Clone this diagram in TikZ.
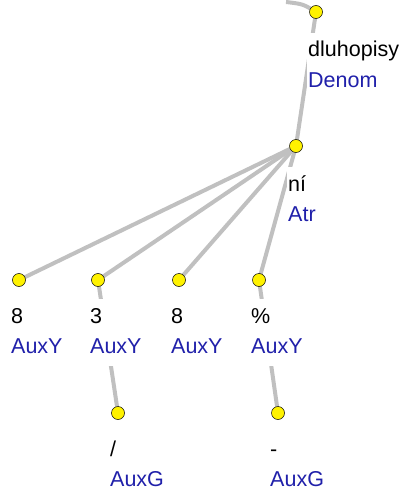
\documentclass[tikz,border=0pt]{standalone}
\usepackage{fontspec}
\setmainfont{Liberation Sans}
\usetikzlibrary{backgrounds}
\definecolor{tredblue}{RGB}{32,32,170}
\definecolor{edgegray}{RGB}{192,192,192}
\newcommand{\twoline}[2]{\begin{tabular}[t]{@{}l@{}}#1\\\color{tredblue}#2\end{tabular}}
\begin{document}
\begin{tikzpicture}[x=1pt,y=-1pt,
  tnode/.style={circle,fill=yellow,draw=black,line width=0.5pt,inner sep=0pt,minimum size=13pt},
  lbl/.style={anchor=base west,fill=white,inner xsep=1pt,inner ysep=3pt,font=\fontsize{21.5}{30.5}\selectfont},
  conn/.style={draw=edgegray,line width=4pt}]
\useasboundingbox (0,0) rectangle (405,494);
% tree nodes
\node[tnode] (A) at (316,12) {};
\node[tnode] (B) at (296,146) {};
\node[tnode] (C1) at (19,280) {};
\node[tnode] (C2) at (98,280) {};
\node[tnode] (C3) at (179,280) {};
\node[tnode] (C4) at (259,280) {};
\node[tnode] (D1) at (118,413) {};
\node[tnode] (D2) at (278,413) {};
% labels
\node[lbl] (lA) at (307,57) {\twoline{dluhopisy}{Denom}};
\node[lbl] (lB) at (287,191) {\twoline{ní}{Atr}};
\node[lbl] (lC1) at (10,323) {\twoline{8}{AuxY}};
\node[lbl] (lC2) at (89,323) {\twoline{3}{AuxY}};
\node[lbl] (lC3) at (170,323) {\twoline{8}{AuxY}};
\node[lbl] (lC4) at (250,323) {\twoline{\%}{AuxY}};
\node[lbl] (lD1) at (109,456) {\twoline{/}{AuxG}};
\node[lbl] (lD2) at (269,456) {\twoline{-}{AuxG}};
% connectors
\begin{scope}[on background layer]
\coordinate (in) at (286,2);
\draw[conn] (in) .. controls (303,4) .. (A.center);
\draw[conn] (A.center) -- (B.center);
\draw[conn] (B.center) -- (C1.center);
\draw[conn] (B.center) -- (C2.center);
\draw[conn] (B.center) -- (C3.center);
\draw[conn] (B.center) -- (C4.center);
\draw[conn] (C2.center) -- (D1.center);
\draw[conn] (C4.center) -- (D2.center);
\end{scope}
\end{tikzpicture}
\end{document}
